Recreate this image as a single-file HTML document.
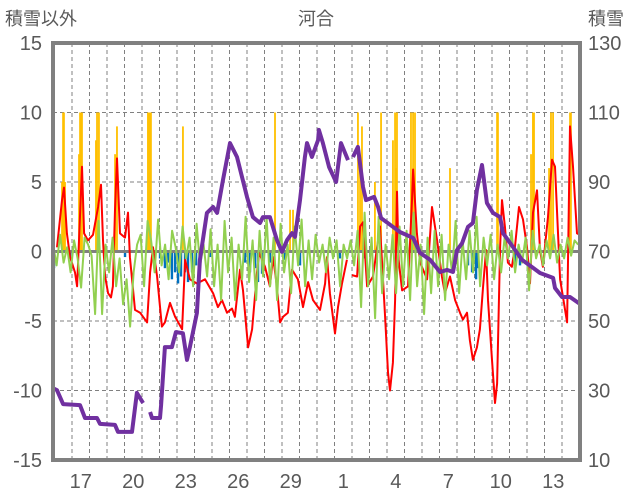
<!DOCTYPE html>
<html><head><meta charset="utf-8"><style>
html,body{margin:0;padding:0;background:#fff;width:636px;height:501px;overflow:hidden}
svg{display:block}
text{font-family:"Liberation Sans","Noto Sans CJK JP",sans-serif;fill:#595959}
</style></head><body>
<svg id="chart" width="636" height="501">
<text x="5" y="25" font-size="18">積雪以外</text>
<text x="316" y="25" font-size="18" text-anchor="middle">河合</text>
<text x="588" y="25" font-size="18">積雪</text>
<g id="grid"></g><g id="bars"></g><g id="lines"></g><g id="axes"></g>
</svg>
<script>
const leftTicks=[15,10,5,0,-5,-10,-15];
const rightTicks=[130,110,90,70,50,30,10];
const dayLabels=["17","20","23","26","29","1","4","7","10","13"];
const dayLabelPos=[0,3,6,9,12,15,18,21,24,27];
const purpleT=[-1.09,-0.86,-0.51,0.46,0.74,1.43,1.6,2.46,2.63,3.43,3.71,4.06,null,4.46,4.57,5.03,5.09,5.31,5.71,5.94,6.34,6.57,6.74,7.14,7.31,7.71,8.06,8.29,8.63,9.03,9.43,10.0,10.34,10.74,10.91,11.31,11.71,12.0,12.29,12.57,12.74,13.03,13.31,13.43,13.71,14.06,14.11,14.34,14.69,15.09,15.37,15.77,null,16.06,16.34,16.63,16.8,17.26,17.49,17.66,18.34,18.74,19.49,19.89,20.46,21.03,21.43,21.77,22.0,22.29,22.63,22.91,23.14,23.43,23.71,24.06,24.46,24.63,25.2,25.71,26.29,26.74,27.49,27.6,28.0,28.46,29.03];
const purpleV=[30.7,30.1,26.1,25.8,22.1,22.1,20.4,20.1,18.1,18.1,29.3,26.4,null,23.8,22.1,22.1,25.8,42.5,42.5,46.8,46.5,38.8,42.5,52.3,67.6,81.1,82.8,81.1,90.6,101.2,97.2,85.7,79.9,78.2,79.9,79.9,73.3,69.9,73.3,75.3,74.2,84.8,97.2,101.2,97.2,102.1,105.0,101.2,94.3,90.0,101.2,96.3,null,97.2,100.1,88.6,84.8,85.7,82.8,79.6,77.1,75.6,73.9,69.6,67.6,64.1,64.7,64.1,70.4,72.4,77.1,78.2,87.7,94.9,84.0,81.1,79.9,75.3,71.3,67.6,65.5,63.8,62.4,59.5,56.9,56.9,54.9];
const redT=[-0.86,-0.57,-0.46,-0.29,-0.11,0.17,0.29,0.4,0.57,0.69,0.91,1.2,1.49,1.66,1.77,1.89,2.06,2.23,2.34,2.46,2.57,2.74,3.03,3.2,3.31,3.6,3.89,4.29,4.46,4.63,4.86,5.14,5.31,5.6,5.89,6.29,6.46,6.74,7.14,7.6,8.06,8.34,8.57,8.86,9.14,9.31,9.6,9.77,10.06,10.29,10.57,10.69,11.03,11.31,11.49,11.71,11.89,12.06,12.34,12.57,12.91,13.2,13.49,13.77,14.17,14.46,14.57,14.74,15.03,15.2,15.43,15.71,null,16.0,16.29,16.46,16.63,16.86,17.2,17.6,17.89,18.06,18.17,18.34,18.46,18.57,18.66,18.86,19.2,19.43,19.49,19.71,19.89,20.29,20.57,20.86,21.14,21.31,21.6,21.89,22.17,22.34,22.57,22.74,22.91,23.14,23.31,23.49,23.66,23.77,24.0,24.17,24.29,24.46,24.57,24.74,24.91,25.14,25.31,25.54,25.77,26.0,26.17,26.34,26.57,26.74,26.91,27.2,27.43,27.6,27.89,28.29,28.46,28.63,28.86,29.03];
const redV=[0.3,3.7,4.6,1.3,-0.4,-1.5,-2.5,0.8,6.1,1.3,0.8,1.2,3.2,4.8,0.8,-1.8,-3.0,-3.3,-2.5,3.0,6.7,1.3,1.0,2.8,-0.4,-4.2,-4.4,-5.1,-1.5,0.3,-1.8,-5.4,-5.1,-3.7,-4.7,-5.6,-0.6,-2.0,-2.3,-2.0,-3.0,-4.0,-3.5,-4.4,-4.1,-4.7,-1.3,-2.8,-6.9,-5.6,-1.5,-0.1,-1.1,-2.5,-0.4,-2.5,-5.1,-4.7,-4.4,-1.3,-2.0,-4.0,-2.2,-3.5,-4.2,-2.3,-0.4,-3.0,-5.9,-4.0,-2.3,-0.6,null,-1.7,-1.8,1.8,2.1,-2.5,-1.8,1.8,-4.7,-8.7,-10.0,-8.0,-3.5,4.3,-0.6,-2.8,-2.5,3.7,5.9,1.3,-0.8,-2.0,3.2,0.8,-1.8,-3.0,-1.8,-3.5,-4.4,-4.9,-4.4,-6.4,-7.8,-6.9,-5.6,-2.5,0.1,-3.5,-7.8,-10.9,-9.5,0.3,3.7,1.8,-0.8,-1.1,0.3,3.2,2.3,0.3,-2.3,2.8,4.4,0.1,-1.1,2.5,6.6,6.1,-2.0,-5.1,9.0,6.1,1.3,1.2];
const greenStart=-1.08, greenStep=0.2;
const greenV=[0.5,-1,1.2,-0.8,0.3,-1.5,0.8,-0.5,-2.6,1,0.5,-0.3,-4.5,2.2,-4.5,0.5,-1.5,1,-2.5,-0.5,-3.8,-2,-5.4,-1.5,0.5,1.2,-2.5,2.2,0.8,-1.5,2.3,-1,0.5,-2,1.5,0.3,-1.5,1.8,-0.5,1,-2.5,2,-1,0.5,-1.8,1.6,-2.5,0.5,-3.5,2.2,-1.5,1,-3.5,0.5,-2,2.5,-2.2,0.8,-3.5,1.5,-1.8,2.5,-2.5,1,-3.5,2,-1.5,0.5,-3,1.8,-1,2.3,-2.5,0.8,-2,1.2,-0.8,0.5,-1.5,1,-0.5,0.8,-2.5,0.5,-0.5,0.8,-1,1.5,-4,2.8,-2.5,1,-4.8,2.5,-3,0.5,-2,1.2,-3,1.8,-2.5,1.5,-3.5,2.8,-2.5,0.5,-4.5,1,-3,1.5,-2.5,1.2,-3.5,0.5,-1.5,2.2,-3,0.8,-2,1.5,-1.5,2.5,-2.5,1,-1,1.2,-2,0.5,-1.5,1,-0.5,1.5,-1.5,0.5,-0.8,1,-2.8,1.5,-0.5,0.5,-1,0.8,-0.5,1.2,-0.8,0.5,-0.5,1,-0.3,0.8,0.5];
const orangeT=[-0.57,-0.51,-0.46,-0.4,0.4,0.46,0.51,0.57,1.37,1.43,1.54,2.46,2.57,4.34,4.4,4.46,4.51,6.34,11.6,12.46,12.63,16.34,16.46,16.57,17.31,17.66,18.34,18.46,18.51,18.57,19.37,19.49,19.6,21.6,24.29,24.34,26.23,26.34,26.4,27.26,27.37,27.49,28.46,28.51];
const orangeV=[5,10,10,5,7,10,10,10,8,10,10,7,9,10,10,10,10,9,10,3,3,10,6,9,5,10,8,10,6,10,10,10,10,6,10,10,7,10,10,6,10,10,10,10];
const blueT=[-1.03,-0.11,3.03,5.03,5.31,5.49,5.71,5.89,6.06,6.23,6.46,6.63,6.86,7.09,7.31,7.89,9.89,10.17,10.46,10.63,10.86,11.31,12.17,13.03,15.31,16.74,22.63,22.86,23.09,23.2,25.31,25.6];
const blueV=[-1.2,-0.5,-0.4,-0.5,-1.2,-0.8,-2.0,-1.5,-2.3,-1.8,-1.5,-2.2,-1.5,-1.0,-0.8,-0.4,-0.8,-1.5,-1.2,-2.2,-1.6,-0.8,-0.6,-1.0,-0.5,-0.5,-1.0,-1.5,-2.0,-1.2,-1.2,-1.0];

const L=53,R=580,T=43,B=460;
const xS=t=>72+17.5*t;
const yL=v=>251.5-v*(B-T)/30;
const yR=v=>B-(v-10)*(B-T)/120;
const NS="http://www.w3.org/2000/svg";
function mk(tag,attrs,parent){const e=document.createElementNS(NS,tag);for(const k in attrs)e.setAttribute(k,attrs[k]);parent.appendChild(e);return e;}
const grid=document.getElementById('grid'),bars=document.getElementById('bars'),lines=document.getElementById('lines'),axes=document.getElementById('axes');
[10,5,-5,-10].forEach(v=>{const l=mk('line',{x1:L,x2:R,y1:yL(v),y2:yL(v),stroke:'#808080','stroke-width':1,'stroke-dasharray':'4,3'},grid);

});
for(let d=-1;d<=29;d++){const x=xS(d);if(x<=L+2||x>=R-2)continue;const l=mk('line',{x1:x,x2:x,y1:T,y2:B,stroke:'#808080','stroke-width':1,'stroke-dasharray':'4,3'},grid);

}
orangeT.forEach((t,i)=>{const v=Math.min(orangeV[i],10);const r=mk('rect',{x:xS(t)-0.9,y:yL(v),width:1.8,height:yL(0)-yL(v),fill:'#FFC000'},bars);

});
blueT.forEach((t,i)=>{const r=mk('rect',{x:xS(t)-1.2,y:yL(0),width:2.4,height:yL(blueV[i])-yL(0),fill:'#0070C0'},bars);

});
const z=mk('line',{x1:L,x2:R,y1:yL(0),y2:yL(0),stroke:'#808080','stroke-width':3},bars);


function pathFrom(ts,vs,yf){let d='',pen=false;for(let i=0;i<ts.length;i++){if(ts[i]===null||vs[i]===null){pen=false;continue;}d+=(pen?'L':'M')+xS(ts[i]).toFixed(1)+','+yf(vs[i]).toFixed(1);pen=true;}return d;}
const red=mk('path',{d:pathFrom(redT,redV,yL),fill:'none',stroke:'#FF0000','stroke-width':2,'stroke-linejoin':'round'},lines);


const gT=greenV.map((v,i)=>greenStart+i*greenStep);
const green=mk('path',{d:pathFrom(gT,greenV,yL),fill:'none',stroke:'#92D050','stroke-width':2,'stroke-linejoin':'round'},lines);


const purple=mk('path',{d:pathFrom(purpleT,purpleV,yR),fill:'none',stroke:'#7030A0','stroke-width':4,'stroke-linejoin':'round'},lines);


const fr=mk('rect',{x:L,y:T,width:R-L,height:B-T,fill:'none',stroke:'#808080','stroke-width':4},axes);


leftTicks.forEach(v=>{const t=mk('text',{x:42,y:yL(v)+7,'font-size':20,'text-anchor':'end'},axes);t.textContent=v;

});
rightTicks.forEach(v=>{const t=mk('text',{x:588,y:yR(v)+7,'font-size':20},axes);t.textContent=v;

});
dayLabels.forEach((s,i)=>{const t=mk('text',{x:xS(dayLabelPos[i])+8.75,y:488,'font-size':20,'text-anchor':'middle'},axes);t.textContent=s;

});
</script>
</body></html>
